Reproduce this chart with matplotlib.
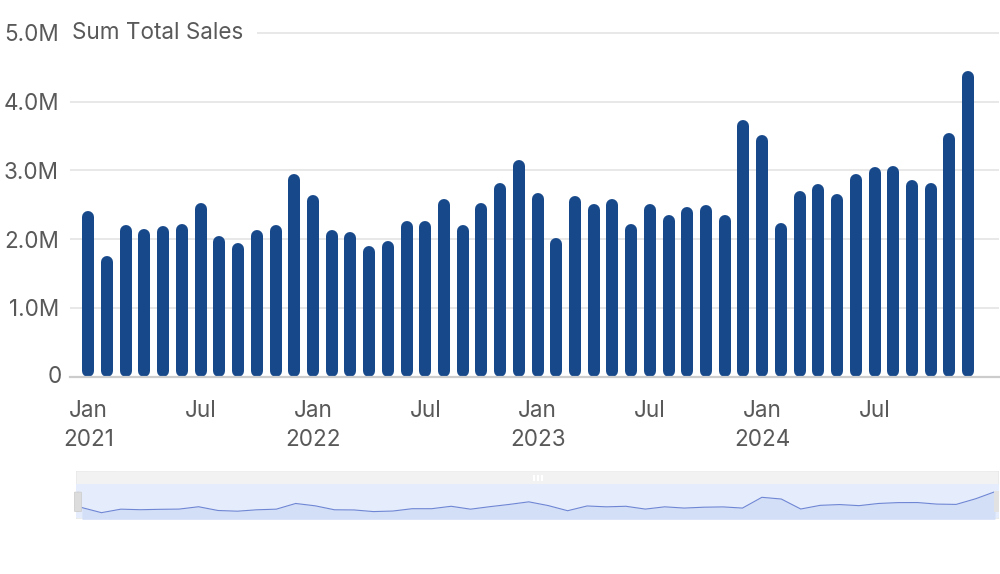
import matplotlib
matplotlib.use("Agg")
import matplotlib.pyplot as plt
from matplotlib.patches import Rectangle, FancyBboxPatch

plt.rcParams['font.family'] = ['Inter', 'DejaVu Sans']

# monthly sales, Jan 2021 .. Dec 2024, in millions
years = [2021, 2022, 2023, 2024]
sales = [
    2.41, 1.76, 2.21, 2.14, 2.19, 2.22, 2.52, 2.04, 1.95, 2.13, 2.21, 2.94,
    2.64, 2.13, 2.11, 1.90, 1.97, 2.27, 2.27, 2.58, 2.21, 2.53, 2.82, 3.15,
    2.67, 2.01, 2.62, 2.51, 2.58, 2.22, 2.51, 2.35, 2.46, 2.50, 2.35, 3.73,
    3.51, 2.23, 2.70, 2.80, 2.66, 2.94, 3.05, 3.06, 2.86, 2.82, 3.54, 4.45,
]
y_ticks = [0, 1, 2, 3, 4, 5]
y_labels = ["0", "1.0M", "2.0M", "3.0M", "4.0M", "5.0M"]
title = "Sum Total Sales"

bar_color = "#16488a"
text_color = "#595959"
fs = 16.2
W, H = 1000, 574

fig = plt.figure(figsize=(10, 5.74), dpi=100)

# main plot, placed in pixels
ax_l, ax_r, ax_b, ax_t = 70, 999, 376.7, 25
ax = fig.add_axes([ax_l / W, 1 - ax_b / H, (ax_r - ax_l) / W, (ax_b - ax_t) / H])
px_per_m = 68.8
ax.set_ylim(0, (ax_b - ax_t) / px_per_m)
step = 18.72
ax.set_xlim((ax_l - 88.3) / step, (ax_r - 88.3) / step)

x = list(range(len(sales)))
lw_px = 12
r = (lw_px / 2) / px_per_m
ax.vlines(x, [r] * len(sales), [v - r for v in sales], colors=bar_color,
          linewidth=lw_px * 72 / 100, capstyle="round", zorder=3)

for s in ["top", "right", "left"]:
    ax.spines[s].set_visible(False)
ax.spines["bottom"].set_color("#cccccc")
ax.spines["bottom"].set_linewidth(1.6)
ax.spines["bottom"].set_zorder(4)

ax.set_yticks(y_ticks[1:])
ax.set_yticklabels(y_labels[1:])
ax.yaxis.grid(True, color="#e6e6e6", linewidth=1.3)
ax.set_axisbelow(True)
ax.tick_params(axis="y", length=0, pad=8, labelsize=fs, labelcolor=text_color)
# zero label sits on the axis line
ax.text(-0.0086, 0, y_labels[0], transform=ax.get_yaxis_transform(),
        ha="right", va="center", fontsize=fs, color=text_color)

xt, xl = [], []
for i, yr in enumerate(years):
    xt += [i * 12, i * 12 + 6]
    xl += ["Jan\n%d" % yr, "Jul"]
ax.set_xticks(xt)
ax.set_xticklabels(xl, linespacing=1.4, va="top")
ax.tick_params(axis="x", length=0, pad=17, labelsize=fs, labelcolor=text_color)

ax.text(0.002, 5.0, title, transform=ax.get_yaxis_transform(), ha="left",
        va="center", fontsize=fs, color=text_color, zorder=5)
# white gap around the title
ax.add_patch(Rectangle((0, 4.9), 187 / (ax_r - ax_l), 0.2,
                       transform=ax.get_yaxis_transform(), facecolor="white",
                       edgecolor="none", zorder=2))

# navigator strip
n_l, n_r, n_t, n_b = 76, 999, 470.7, 519.3
nav = fig.add_axes([n_l / W, 1 - n_b / H, (n_r - n_l) / W, (n_b - n_t) / H])
nav.set_axis_off()
nstep = (995 - 82) / 47
nav.set_xlim(-(82 - n_l) / nstep, 47 + (n_r - 995) / nstep)
v_lo = (526.4 - n_b) / 7.8
v_hi = (526.4 - n_t) / 7.8
nav.set_ylim(v_lo, v_hi)
split = (n_b - 484.3) / (n_b - n_t)

nav.add_patch(FancyBboxPatch((0, 0), 1, 1, boxstyle="round,pad=0,rounding_size=0.08",
                             transform=nav.transAxes, mutation_aspect=0.05,
                             facecolor="#f2f2f2", edgecolor="#e4e4e4",
                             linewidth=0.8, zorder=0))
nav.add_patch(Rectangle((0, 0.02), 1, split - 0.02, transform=nav.transAxes,
                        facecolor="#e5edfc", edgecolor="none", zorder=1))
nav.fill_between(x, sales, v_lo, color="#d3def7", linewidth=0, zorder=2)
nav.plot(x, sales, color="#6f86d4", linewidth=0.8, zorder=3)

# handles
nav.add_patch(FancyBboxPatch((-1.5 / (n_r - n_l), 0.16), 7 / (n_r - n_l), 0.4,
                             boxstyle="round,pad=0,rounding_size=0.004",
                             transform=nav.transAxes, facecolor="#dcdcdc",
                             edgecolor="#cfcfcf", linewidth=0.6, zorder=4,
                             clip_on=False))
nav.add_patch(Rectangle((1 - 5 / (n_r - n_l), 0.16), 5 / (n_r - n_l), 0.42,
                        transform=nav.transAxes, facecolor="#e2e2e2",
                        edgecolor="none", zorder=4))
for gx in [534, 538, 542]:
    nav.add_patch(Rectangle(((gx - n_l - 1) / (n_r - n_l), (n_b - 480.5) / (n_b - n_t)),
                            2 / (n_r - n_l), 5.5 / (n_b - n_t),
                            transform=nav.transAxes, facecolor="white",
                            edgecolor="none", zorder=4))

fig.savefig("out.png", dpi=100)
